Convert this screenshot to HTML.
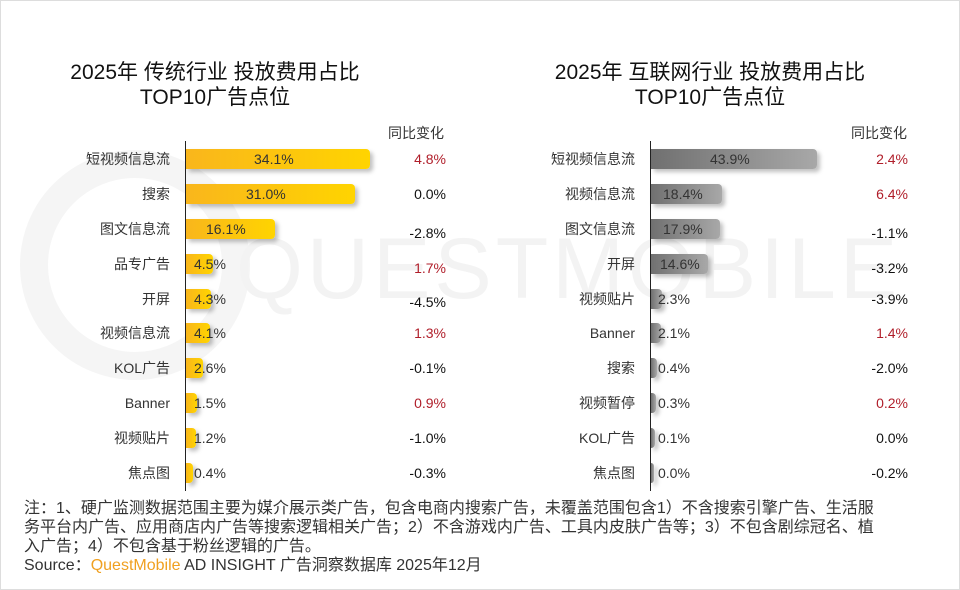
<!DOCTYPE html>
<html><head><meta charset="utf-8"><style>
body{margin:0;width:960px;height:590px;background:#fff;position:relative;overflow:hidden;font-family:"Liberation Sans","Noto Sans CJK SC",sans-serif;color:#222}
.t{position:absolute;font-size:21px;font-weight:normal;text-align:center;line-height:25px;color:#111}
.lab{position:absolute;font-size:14px;text-align:right;width:140px;line-height:20px;color:#333}
.bar{position:absolute;height:20px;border-radius:0 4px 4px 0;box-shadow:3px 3px 4px rgba(0,0,0,0.25)}
.y{background:linear-gradient(90deg,#f9b61c,#ffd400)}
.g{background:linear-gradient(90deg,#707070,#a8a8a8)}
.v{position:absolute;font-size:14px;line-height:20px;color:#333}
.c{position:absolute;font-size:14px;line-height:20px;text-align:right;width:80px;color:#111}
.r{color:#b01e2a}
.ax{position:absolute;width:1px;background:#222}
.wm{position:absolute;font-family:"Liberation Sans",sans-serif;font-size:86px;font-weight:normal;color:#f3f3f3;letter-spacing:4px;white-space:nowrap}
</style></head><body>
<div style="position:absolute;left:0;top:0;width:958px;height:588px;border:1px solid #ddd"></div>
<div style="position:absolute;left:20px;top:150px;width:230px;height:230px;border-radius:50%;border:28px solid #f5f5f5;box-sizing:border-box"></div>
<div class="wm" style="left:236px;top:220px">QUESTMOBILE</div>

<div class="t" style="left:40px;top:60px;width:350px">2025年 传统行业 投放费用占比<br>TOP10广告点位</div>
<div class="t" style="left:535px;top:60px;width:350px">2025年 互联网行业 投放费用占比<br>TOP10广告点位</div>
<div class="v" style="left:388px;top:123px">同比变化</div>
<div class="v" style="left:851px;top:123px">同比变化</div>
<div class="ax" style="left:185px;top:141px;height:350px"></div>
<div class="ax" style="left:650px;top:141px;height:350px"></div>

<div class="lab" style="left:30px;top:149px">短视频信息流</div>
<div class="lab" style="left:30px;top:184px">搜索</div>
<div class="lab" style="left:30px;top:219px">图文信息流</div>
<div class="lab" style="left:30px;top:254px">品专广告</div>
<div class="lab" style="left:30px;top:289px">开屏</div>
<div class="lab" style="left:30px;top:323px">视频信息流</div>
<div class="lab" style="left:30px;top:358px">KOL广告</div>
<div class="lab" style="left:30px;top:393px">Banner</div>
<div class="lab" style="left:30px;top:428px">视频贴片</div>
<div class="lab" style="left:30px;top:463px">焦点图</div>

<div class="bar y" style="left:186px;top:149px;width:184px"></div>
<div class="bar y" style="left:186px;top:184px;width:169px"></div>
<div class="bar y" style="left:186px;top:219px;width:89px"></div>
<div class="bar y" style="left:186px;top:254px;width:27px"></div>
<div class="bar y" style="left:186px;top:289px;width:25px"></div>
<div class="bar y" style="left:186px;top:323px;width:24px"></div>
<div class="bar y" style="left:186px;top:358px;width:17px"></div>
<div class="bar y" style="left:186px;top:393px;width:11px"></div>
<div class="bar y" style="left:186px;top:428px;width:10px"></div>
<div class="bar y" style="left:186px;top:463px;width:7px"></div>

<div class="v" style="left:254px;top:149px">34.1%</div>
<div class="v" style="left:246px;top:184px">31.0%</div>
<div class="v" style="left:206px;top:219px">16.1%</div>
<div class="v" style="left:194px;top:254px">4.5%</div>
<div class="v" style="left:194px;top:289px">4.3%</div>
<div class="v" style="left:194px;top:323px">4.1%</div>
<div class="v" style="left:194px;top:358px">2.6%</div>
<div class="v" style="left:194px;top:393px">1.5%</div>
<div class="v" style="left:194px;top:428px">1.2%</div>
<div class="v" style="left:194px;top:463px">0.4%</div>

<div class="c r" style="left:366px;top:149px">4.8%</div>
<div class="c" style="left:366px;top:184px">0.0%</div>
<div class="c" style="left:366px;top:223px">-2.8%</div>
<div class="c r" style="left:366px;top:258px">1.7%</div>
<div class="c" style="left:366px;top:292px">-4.5%</div>
<div class="c r" style="left:366px;top:323px">1.3%</div>
<div class="c" style="left:366px;top:358px">-0.1%</div>
<div class="c r" style="left:366px;top:393px">0.9%</div>
<div class="c" style="left:366px;top:428px">-1.0%</div>
<div class="c" style="left:366px;top:463px">-0.3%</div>

<div class="lab" style="left:495px;top:149px">短视频信息流</div>
<div class="lab" style="left:495px;top:184px">视频信息流</div>
<div class="lab" style="left:495px;top:219px">图文信息流</div>
<div class="lab" style="left:495px;top:254px">开屏</div>
<div class="lab" style="left:495px;top:289px">视频贴片</div>
<div class="lab" style="left:495px;top:323px">Banner</div>
<div class="lab" style="left:495px;top:358px">搜索</div>
<div class="lab" style="left:495px;top:393px">视频暂停</div>
<div class="lab" style="left:495px;top:428px">KOL广告</div>
<div class="lab" style="left:495px;top:463px">焦点图</div>

<div class="bar g" style="left:651px;top:149px;width:166px"></div>
<div class="bar g" style="left:651px;top:184px;width:71px"></div>
<div class="bar g" style="left:651px;top:219px;width:69px"></div>
<div class="bar g" style="left:651px;top:254px;width:57px"></div>
<div class="bar g" style="left:651px;top:289px;width:11px"></div>
<div class="bar g" style="left:651px;top:323px;width:10px"></div>
<div class="bar g" style="left:651px;top:358px;width:6px"></div>
<div class="bar g" style="left:651px;top:393px;width:5px"></div>
<div class="bar g" style="left:651px;top:428px;width:4px"></div>
<div class="bar g" style="left:651px;top:463px;width:3px"></div>

<div class="v" style="left:710px;top:149px">43.9%</div>
<div class="v" style="left:663px;top:184px">18.4%</div>
<div class="v" style="left:663px;top:219px">17.9%</div>
<div class="v" style="left:660px;top:254px">14.6%</div>
<div class="v" style="left:658px;top:289px">2.3%</div>
<div class="v" style="left:658px;top:323px">2.1%</div>
<div class="v" style="left:658px;top:358px">0.4%</div>
<div class="v" style="left:658px;top:393px">0.3%</div>
<div class="v" style="left:658px;top:428px">0.1%</div>
<div class="v" style="left:658px;top:463px">0.0%</div>

<div class="c r" style="left:828px;top:149px">2.4%</div>
<div class="c r" style="left:828px;top:184px">6.4%</div>
<div class="c" style="left:828px;top:223px">-1.1%</div>
<div class="c" style="left:828px;top:258px">-3.2%</div>
<div class="c" style="left:828px;top:289px">-3.9%</div>
<div class="c r" style="left:828px;top:323px">1.4%</div>
<div class="c" style="left:828px;top:358px">-2.0%</div>
<div class="c r" style="left:828px;top:393px">0.2%</div>
<div class="c" style="left:828px;top:428px">0.0%</div>
<div class="c" style="left:828px;top:463px">-0.2%</div>

<div style="position:absolute;left:24px;top:499px;font-size:16px;line-height:19px;color:#333;white-space:nowrap">注：1、硬广监测数据范围主要为媒介展示类广告，包含电商内搜索广告，未覆盖范围包含1）不含搜索引擎广告、生活服<br>务平台内广告、应用商店内广告等搜索逻辑相关广告；2）不含游戏内广告、工具内皮肤广告等；3）不包含剧综冠名、植<br>入广告；4）不包含基于粉丝逻辑的广告。<br><span style="line-height:16px">Source：<span style="color:#f0a020">QuestMobile</span> AD INSIGHT 广告洞察数据库 2025年12月</span></div>
</body></html>
